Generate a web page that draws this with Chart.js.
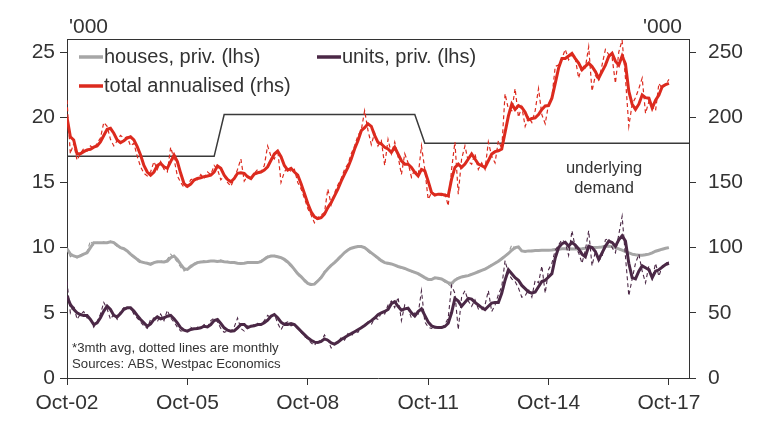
<!DOCTYPE html>
<html lang="en">
<head>
    <meta charset="UTF-8">
    <title>Dwelling approvals</title>
    <script src="https://cdn.jsdelivr.net/npm/chart.js"></script>
    <style>
        body { margin: 0; background: #fff; }
    </style>
</head>
<body>
    <canvas id="chart" width="775" height="436"></canvas>
</body>

<script>
    // months from Oct-02 (index 0) to Oct-17 (index 180), axis runs to Apr-18
    var tickPos = [0, 36, 72, 108, 144, 180]
    var tickLabels = ['Oct-02', 'Oct-05', 'Oct-08', 'Oct-11', 'Oct-14', 'Oct-17']
    var leftTicks = [0, 5, 10, 15, 20, 25]
    var rightTicks = [0, 50, 100, 150, 200, 250]

    // houses, private, 3mth avg ('000, lhs)
    var houses = [9.92, 9.5, 9.36, 9.28, 9.36, 9.5, 9.6, 10.0, 10.38, 10.38,
        10.38, 10.38, 10.38, 10.44, 10.38, 10.18, 10.0, 9.92, 9.74, 9.5,
        9.3, 9.1, 8.92, 8.85, 8.8, 8.72, 8.85, 8.92, 8.92, 8.9,
        8.97, 9.23, 9.36, 9.1, 8.72, 8.38, 8.33, 8.54, 8.72, 8.85,
        8.9, 8.92, 8.94, 8.97, 8.97, 8.94, 8.97, 8.92, 8.9, 8.85,
        8.85, 8.8, 8.78, 8.8, 8.85, 8.85, 8.85, 8.85, 8.92, 9.1,
        9.28, 9.36, 9.36, 9.3, 9.23, 9.1, 8.9, 8.64, 8.33, 8.0,
        7.77, 7.5, 7.26, 7.18, 7.2, 7.44, 7.7, 8.08, 8.38, 8.64,
        8.85, 9.1, 9.36, 9.62, 9.82, 9.95, 10.03, 10.08, 10.08, 10.0,
        9.8, 9.6, 9.4, 9.2, 9.0, 8.85, 8.8, 8.75, 8.65, 8.55,
        8.48, 8.4, 8.3, 8.2, 8.1, 8.0, 7.85, 7.7, 7.56, 7.55,
        7.68, 7.65, 7.6, 7.45, 7.3, 7.25, 7.5, 7.65, 7.75, 7.8,
        7.85, 7.95, 8.05, 8.15, 8.25, 8.35, 8.5, 8.65, 8.8, 8.95,
        9.15, 9.35, 9.55, 9.8, 10.0, 10.05, 9.75, 9.7, 9.75, 9.75,
        9.78, 9.78, 9.8, 9.8, 9.8, 9.82, 9.85, 9.88, 9.92, 9.92,
        9.9, 9.9, 9.9, 9.9, 9.92, 9.95, 9.98, 10.0, 10.0, 10.02,
        10.05, 10.1, 10.1, 10.08, 10.0, 9.9, 9.8, 9.7, 9.6, 9.5,
        9.45, 9.42, 9.42, 9.45, 9.5, 9.6, 9.72, 9.8, 9.88, 9.95,
        10.0]

    // houses, private, monthly
    var housesM = [10.0, 9.3, 9.4, 9.2, 9.45, 9.55, 9.7, 10.5, 10.2, 10.4,
        10.35, 10.45, 10.3, 10.5, 10.3, 10.1, 9.95, 9.85, 9.7, 9.4,
        9.25, 9.0, 8.8, 8.9, 8.7, 8.8, 8.95, 8.85, 9.0, 8.85,
        9.1, 9.5, 9.2, 8.9, 8.5, 8.2, 8.4, 8.65, 8.8, 8.9,
        8.85, 9.0, 8.9, 9.0, 8.95, 8.9, 9.05, 8.85, 8.95, 8.8,
        8.9, 8.75, 8.8, 8.85, 8.8, 8.9, 8.8, 8.9, 9.0, 9.2,
        9.35, 9.3, 9.4, 9.25, 9.2, 9.0, 8.8, 8.55, 8.25, 7.9,
        7.7, 7.4, 7.2, 7.1, 7.3, 7.5, 7.8, 8.2, 8.3, 8.75,
        8.9, 9.2, 9.45, 9.6, 9.9, 10.0, 10.05, 10.1, 10.05, 9.95,
        9.7, 9.5, 9.35, 9.1, 8.95, 8.8, 8.75, 8.7, 8.7, 8.5,
        8.45, 8.35, 8.3, 8.15, 8.05, 7.95, 7.8, 7.65, 7.5, 7.6,
        7.7, 7.6, 7.55, 7.35, 7.2, 7.0, 7.6, 7.7, 7.8, 7.85,
        7.9, 8.0, 8.05, 8.2, 8.3, 8.35, 8.55, 8.7, 8.85, 9.0,
        9.2, 9.4, 9.6, 10.2, 9.9, 10.0, 9.7, 9.75, 9.7, 9.8,
        9.75, 9.85, 9.75, 9.8, 9.85, 9.8, 9.9, 9.85, 9.95, 9.9,
        9.85, 9.95, 9.9, 9.85, 9.95, 9.95, 10.0, 10.05, 9.95, 10.05,
        10.1, 10.15, 10.05, 10.1, 9.95, 9.85, 9.8, 9.65, 9.55, 9.45,
        9.4, 9.45, 9.4, 9.5, 9.5, 9.65, 9.75, 9.8, 9.9, 9.95,
        10.05]

    // units, private, 3mth avg ('000, lhs)
    var units = [6.28, 5.64, 5.26, 5.0, 4.87, 4.8, 4.8, 4.49, 4.1, 4.23,
        4.62, 5.13, 5.51, 5.26, 4.8, 4.69, 4.95, 5.26, 5.38, 5.38,
        5.13, 4.8, 4.49, 4.23, 3.97, 4.15, 4.49, 4.69, 4.54, 4.62,
        4.74, 4.8, 4.54, 4.23, 3.85, 3.67, 3.59, 3.72, 3.77, 3.8,
        3.85, 3.97, 3.92, 4.1, 4.41, 4.49, 4.18, 3.85, 3.67, 3.59,
        3.62, 3.85, 4.1, 4.1, 3.85, 3.97, 4.0, 4.1, 4.1, 4.23,
        4.44, 4.74, 4.87, 4.62, 4.28, 4.1, 4.1, 4.18, 4.1, 3.85,
        3.59, 3.33, 3.08, 2.9, 2.75, 2.72, 2.8, 3.0, 2.9, 2.69,
        2.6, 2.75, 2.95, 3.1, 3.26, 3.4, 3.55, 3.7, 3.85, 4.03,
        4.23, 4.4, 4.6, 4.85, 5.0, 5.1, 5.26, 5.7, 5.85, 5.5,
        5.2, 5.3, 5.35, 5.0, 4.75, 5.1, 5.3, 4.8, 4.3, 4.0,
        3.9, 3.88, 3.88, 3.95, 4.2, 5.0, 6.1, 5.9, 5.5, 5.8,
        6.1, 6.05, 5.8, 5.6, 5.4, 5.25, 5.5, 5.75, 5.8, 5.8,
        6.5, 7.5, 8.3, 8.0, 7.7, 7.5, 7.1, 6.85, 6.6, 6.5,
        6.6, 7.0, 7.4, 7.5, 7.75, 8.0, 9.2, 10.0, 10.3, 10.4,
        10.1, 10.4, 10.2, 9.9, 9.5, 9.3, 10.1, 10.0, 9.7, 9.1,
        9.6, 10.1, 10.5, 10.4, 10.1, 10.6, 10.9, 10.5, 8.8, 7.7,
        7.6, 8.2, 8.6, 8.45, 8.3, 7.7, 8.2, 8.3, 8.5, 8.7,
        8.8]

    // units, private, monthly
    var unitsM = [7.4, 5.0, 5.6, 4.5, 4.9, 5.1, 4.6, 4.6, 3.9, 4.3,
        4.9, 5.8, 5.3, 4.5, 4.9, 4.5, 5.1, 5.4, 5.3, 5.4,
        4.9, 4.6, 4.3, 4.0, 3.8, 4.5, 4.6, 4.3, 4.9, 4.4,
        5.2, 4.6, 4.3, 3.9, 3.6, 3.6, 3.6, 3.9, 3.7, 3.9,
        3.8, 4.1, 3.9, 4.4, 4.6, 4.3, 3.8, 3.5, 3.6, 3.6,
        3.9, 4.6, 3.8, 3.6, 4.0, 3.9, 4.1, 4.2, 4.1, 4.4,
        4.8, 4.6, 4.9, 4.2, 3.7, 4.2, 4.3, 4.0, 4.1, 3.8,
        3.5, 3.2, 3.0, 2.7, 2.5, 2.9, 2.8, 3.3, 2.9, 2.3,
        2.6, 2.7, 3.1, 2.9, 3.4, 3.2, 3.6, 3.5, 3.9, 4.0,
        4.3, 4.1, 4.6, 4.5, 5.0, 4.9, 5.6, 5.9, 5.4, 6.2,
        4.4, 5.6, 5.3, 4.6, 5.0, 4.9, 6.7, 4.3, 3.9, 3.8,
        4.0, 3.9, 3.8, 4.1, 4.6, 7.1, 6.5, 3.7, 6.2, 6.7,
        5.9, 5.5, 6.0, 5.3, 5.2, 5.6, 6.7, 5.1, 5.6, 6.4,
        7.0, 9.0, 8.0, 7.6, 7.4, 6.9, 6.2, 6.3, 6.8, 6.2,
        7.5, 7.3, 8.6, 6.5, 8.3, 8.8, 9.8, 10.2, 10.6, 10.4,
        9.4, 11.3, 10.0, 9.6, 8.8, 9.8, 11.3, 8.6, 9.7, 9.0,
        9.3, 10.6, 10.7, 10.0, 9.6, 11.0, 12.4, 9.3, 6.3, 7.6,
        8.8, 9.5, 8.2, 7.3, 8.6, 7.6, 8.8, 7.8, 8.6, 8.8,
        8.9]

    // total, annualised, 3mth avg ('000, rhs)
    var total = [200, 185, 182.6, 172, 172, 173.6, 175, 175.4, 177, 178,
        181, 186, 190.8, 191.5, 187.7, 182.6, 180.5, 182, 184, 185,
        182.6, 177.4, 171, 163, 158, 155.6, 158, 163, 164.6, 162,
        160.8, 166, 171, 166, 157, 149, 147, 148.7, 151.8, 153,
        153.6, 154.4, 154.9, 155.6, 158, 162.6, 160.8, 155.6, 152.3, 150.5,
        153, 157, 157.4, 157, 154.4, 153, 156.4, 157.4, 158, 159.5,
        162, 167, 171.8, 174, 169.7, 163, 159.5, 160.8, 158, 155.6,
        149, 141.5, 133.8, 127.4, 123.6, 122.3, 123, 125.6, 130.7, 134.6,
        139.7, 144.8, 151, 156.4, 161.5, 168, 175.6, 182, 189.7, 192,
        195, 193, 186, 180.7, 179.5, 177, 175.6, 173, 177, 171.8,
        166.6, 164, 164, 161.5, 157.7, 155, 160, 158.9, 151, 142.3,
        140.2, 141, 141, 140.2, 139.7, 152.5, 161.5, 164, 161.5, 164,
        168, 171.8, 168, 164, 162.8, 161.5, 166.6, 171.8, 173.6, 174.3,
        175.6, 188.4, 201, 210, 206, 208.9, 207.6, 203.8, 198, 199,
        199.5, 202, 206, 208.7, 209, 214.6, 226, 237.7, 245, 245,
        247, 249, 245, 241.5, 236.4, 239, 241.5, 239, 235, 230,
        235, 240, 246.7, 249, 243, 240, 247, 241, 220, 210,
        206, 210, 217, 215, 214.6, 207, 213, 217, 223.6, 225,
        226]

    // total, annualised, monthly
    var totalM = [213, 172, 180, 167, 172, 176, 174, 178, 176, 180,
        184, 196, 193, 183, 178, 182, 186, 184, 185, 178,
        180, 170, 162, 157, 155, 158, 166, 160, 166, 160,
        158, 177, 168, 155, 150, 146, 147, 152, 153, 152,
        156, 153, 158, 156, 163, 160, 152, 155, 150, 147,
        153, 160, 168, 151, 155, 152, 157, 160, 158, 163,
        178, 170, 168, 175, 150, 158, 162, 158, 160, 150,
        145, 138, 130, 125, 119, 123, 125, 127, 145, 133,
        142, 148, 153, 160, 164, 172, 178, 186, 190, 205,
        190, 179, 188, 178, 182, 163, 183, 172, 181, 170,
        156, 172, 165, 154, 160, 155, 178, 160, 137, 142,
        141, 141, 140, 142, 132, 160, 181, 141, 168, 178,
        166, 164, 172, 160, 165, 160, 181, 170, 165, 182,
        176, 218, 206, 205, 222, 200, 208, 193, 200, 196,
        205, 222, 202, 195, 210, 215, 239, 240, 245, 252,
        244, 248, 245, 230, 240, 238, 254, 220, 232, 228,
        240, 252, 248, 246, 226, 250, 259, 230, 193, 210,
        215, 222, 230, 203, 212, 208, 205, 226, 222, 225,
        229]

    // underlying demand (rhs), step line
    var demandMonths = [0, 44, 47, 104, 107, 186]
    var demandValues = [170, 170, 202, 202, 180, 180]

    var red = '#dc2a1e'
    var purple = '#4b2846'
    var grey = '#a6a6a6'
    var ink = '#333333'
    var fontName = '"Liberation Sans", Arial, sans-serif'

    function pts(arr) {
        return arr.map(function (v, i) { return { x: i, y: v } })
    }

    var framePlugin = {
        id: 'frame',
        afterDraw: function (chart) {
            var c = chart.ctx
            var a = chart.chartArea
            c.save()
            c.strokeStyle = ink
            c.lineWidth = 1
            c.beginPath()
            c.moveTo(a.left, a.top + 0.5)
            c.lineTo(a.right, a.top + 0.5)
            c.stroke()

            c.fillStyle = ink
            c.textBaseline = 'middle'
            c.font = '21px ' + fontName
            c.textAlign = 'left'
            c.fillText("'000", 69, 27)
            c.textAlign = 'right'
            c.fillText("'000", 682, 27)

            // legend
            c.textAlign = 'left'
            c.font = '20px ' + fontName
            var items = [
                { x: 79, y: 57, color: grey, text: 'houses, priv. (lhs)' },
                { x: 317, y: 57, color: purple, text: 'units, priv. (lhs)' },
                { x: 79, y: 86, color: red, text: 'total annualised (rhs)' }
            ]
            items.forEach(function (it) {
                c.strokeStyle = it.color
                c.lineWidth = 3.5
                c.beginPath()
                c.moveTo(it.x, it.y)
                c.lineTo(it.x + 24, it.y)
                c.stroke()
                c.fillStyle = ink
                c.fillText(it.text, it.x + 25, it.y)
            })

            c.font = '16.5px ' + fontName
            c.textAlign = 'center'
            c.fillText('underlying', 604, 168)
            c.fillText('demand', 604, 188)

            c.font = '13.2px ' + fontName
            c.textAlign = 'left'
            c.fillText('*3mth avg, dotted lines are monthly', 72, 348)
            c.fillText('Sources: ABS, Westpac Economics', 72, 364)
            c.restore()
        }
    }

    function fixTicks(list) {
        return function (scale) {
            scale.ticks = list.map(function (v) { return { value: v } })
        }
    }

    var tickFont = { family: fontName, size: 21 }

    var canvas = document.getElementById('chart')
    var chart = new Chart(canvas, {
        type: 'line',
        data: {
            datasets: [
                { data: pts(total), yAxisID: 'y1', borderColor: red, borderWidth: 3, order: 0 },
                { data: pts(totalM), yAxisID: 'y1', borderColor: red, borderWidth: 1.2, borderDash: [4, 3], order: 1 },
                { data: pts(units), yAxisID: 'y', borderColor: purple, borderWidth: 3, order: 2 },
                { data: pts(unitsM), yAxisID: 'y', borderColor: purple, borderWidth: 1.1, borderDash: [4, 3], order: 3 },
                { data: pts(houses), yAxisID: 'y', borderColor: grey, borderWidth: 3, order: 4 },
                { data: pts(housesM), yAxisID: 'y', borderColor: '#999999', borderWidth: 1.1, borderDash: [4, 3], order: 5 },
                {
                    data: demandMonths.map(function (m, i) { return { x: m, y: demandValues[i] } }),
                    yAxisID: 'y1', borderColor: '#3a3a3a', borderWidth: 1.5, order: 6
                }
            ]
        },
        options: {
            responsive: false,
            animation: false,
            events: [],
            layout: { padding: { top: 39, left: 0, right: 0, bottom: 0 } },
            elements: { point: { radius: 0 }, line: { tension: 0 } },
            plugins: { legend: { display: false }, tooltip: { enabled: false } },
            scales: {
                x: {
                    type: 'linear', min: 0, max: 186,
                    afterBuildTicks: fixTicks(tickPos),
                    afterFit: function (s) { s.height = 58 },
                    ticks: {
                        autoSkip: false, maxRotation: 0, padding: 6, color: ink, font: tickFont,
                        callback: function (v) { return tickLabels[tickPos.indexOf(v)] }
                    },
                    grid: { drawOnChartArea: false, tickLength: 7, tickColor: ink },
                    border: { color: ink, width: 1 }
                },
                y: {
                    position: 'left', min: 0, max: 26,
                    afterBuildTicks: fixTicks(leftTicks),
                    afterFit: function (s) { s.width = 67 },
                    ticks: { padding: 5, color: ink, font: tickFont },
                    grid: { drawOnChartArea: false, tickLength: 7, tickColor: ink },
                    border: { color: ink, width: 1 }
                },
                y1: {
                    position: 'right', min: 0, max: 260,
                    afterBuildTicks: fixTicks(rightTicks),
                    afterFit: function (s) { s.width = 86 },
                    ticks: { padding: 12, color: ink, font: tickFont },
                    grid: { drawOnChartArea: false, tickLength: 7, tickColor: ink },
                    border: { color: ink, width: 1 }
                }
            }
        },
        plugins: [framePlugin]
    })
</script>
</html>
